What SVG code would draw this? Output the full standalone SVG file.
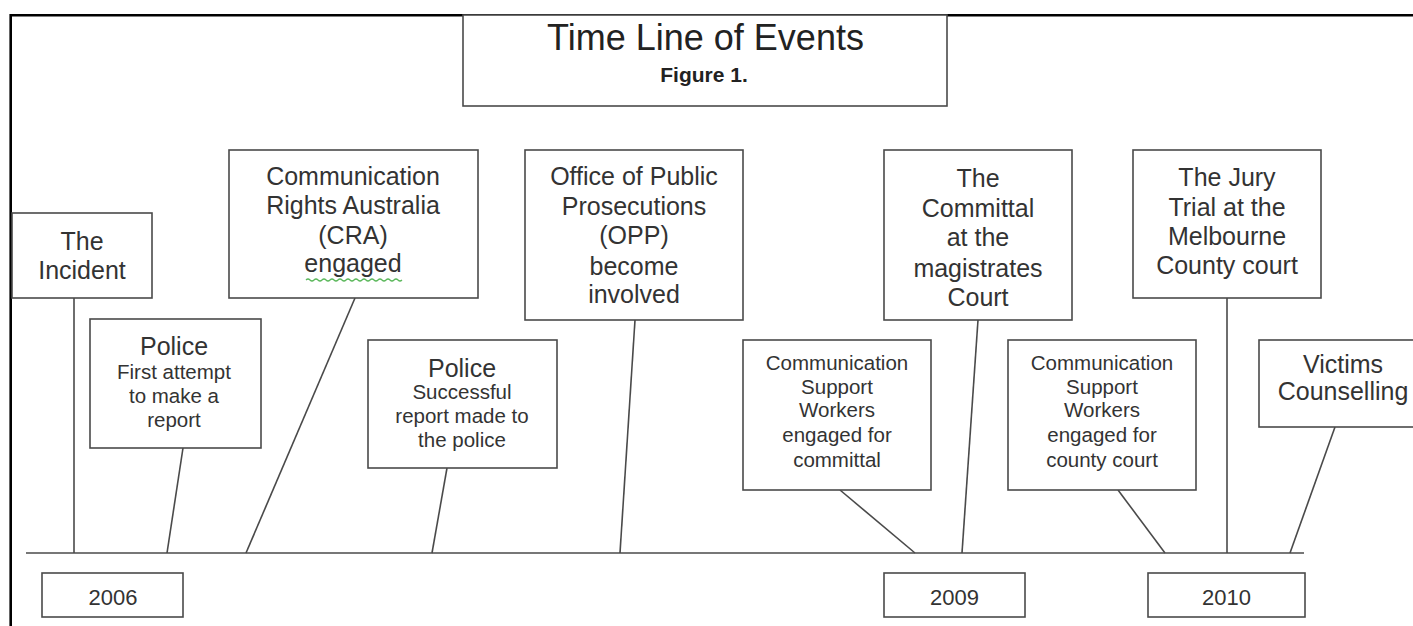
<svg xmlns="http://www.w3.org/2000/svg" width="1413" height="626" viewBox="0 0 1413 626">
<style>
.bg{fill:#fff}
.frame{stroke:#000;stroke-width:2.6;fill:none}
.box{fill:#fff;stroke:#4a4a4a;stroke-width:1.6}
.ln{stroke:#4a4a4a;stroke-width:1.6;fill:none}
text{font-family:"Liberation Sans",Arial,Helvetica,sans-serif;fill:#333;text-anchor:middle}
.big{font-size:25px}
.sm{font-size:20.5px}
.yr{font-size:22px}
.title{font-size:36px;fill:#222}
.fig{font-size:21px;font-weight:bold;fill:#222}
.spell{stroke:#5cb85c;stroke-width:1.2;fill:none}
</style>
<rect class="bg" x="0" y="0" width="1413" height="626"/>
<g id="frame">
<line class="frame" x1="10" y1="15.3" x2="1413" y2="15.3"/>
<line class="frame" x1="10.7" y1="14" x2="10.7" y2="626"/>
</g>
<g id="title">
<rect class="box" x="463" y="15" width="484" height="91"/>
<text class="title" x="705.5" y="50">Time Line of Events</text>
<text class="fig" x="704" y="82">Figure 1.</text>
</g>
<g id="connectors">
<line class="ln" x1="26" y1="553" x2="1304" y2="553"/>
<line class="ln" x1="74" y1="298" x2="74" y2="553"/>
<line class="ln" x1="183" y1="448" x2="167" y2="553"/>
<line class="ln" x1="355" y1="298" x2="246" y2="553"/>
<line class="ln" x1="447" y1="468" x2="432" y2="553"/>
<line class="ln" x1="635" y1="320" x2="620" y2="553"/>
<line class="ln" x1="840" y1="490" x2="915" y2="553"/>
<line class="ln" x1="978" y1="320" x2="962" y2="553"/>
<line class="ln" x1="1118" y1="490" x2="1165" y2="553"/>
<line class="ln" x1="1227" y1="298" x2="1227" y2="553"/>
<line class="ln" x1="1335" y1="427" x2="1290" y2="553"/>
</g>
<g id="incident">
<rect class="box" x="12" y="213" width="140" height="85"/>
<text class="big" x="82" y="250">The</text>
<text class="big" x="82" y="279">Incident</text>
</g>
<g id="police-first">
<rect class="box" x="90" y="319" width="171" height="129"/>
<text class="big" x="174" y="355">Police</text>
<text class="sm" x="174" y="379">First attempt</text>
<text class="sm" x="174" y="403">to make a</text>
<text class="sm" x="174" y="427">report</text>
</g>
<g id="cra">
<rect class="box" x="229" y="150" width="249" height="148"/>
<text class="big" x="353" y="185">Communication</text>
<text class="big" x="353" y="214">Rights Australia</text>
<text class="big" x="353" y="244">(CRA)</text>
<text class="big" x="353" y="272">engaged</text>
<path class="spell" d="M306 280 q2 -2 4 0 t4 0 t4 0 t4 0 t4 0 t4 0 t4 0 t4 0 t4 0 t4 0 t4 0 t4 0 t4 0 t4 0 t4 0 t4 0 t4 0 t4 0 t4 0 t4 0 t4 0 t4 0 t4 0 t4 0"/>
</g>
<g id="police-success">
<rect class="box" x="368" y="340" width="189" height="128"/>
<text class="big" x="462" y="377">Police</text>
<text class="sm" x="462" y="399">Successful</text>
<text class="sm" x="462" y="423">report made to</text>
<text class="sm" x="462" y="447">the police</text>
</g>
<g id="opp">
<rect class="box" x="525" y="150" width="218" height="170"/>
<text class="big" x="634" y="185">Office of Public</text>
<text class="big" x="634" y="215">Prosecutions</text>
<text class="big" x="634" y="244">(OPP)</text>
<text class="big" x="634" y="275">become</text>
<text class="big" x="634" y="303">involved</text>
</g>
<g id="csw-committal">
<rect class="box" x="743" y="340" width="188" height="150"/>
<text class="sm" x="837" y="370">Communication</text>
<text class="sm" x="837" y="394">Support</text>
<text class="sm" x="837" y="417">Workers</text>
<text class="sm" x="837" y="442">engaged for</text>
<text class="sm" x="837" y="467">committal</text>
</g>
<g id="committal">
<rect class="box" x="884" y="150" width="188" height="170"/>
<text class="big" x="978" y="187">The</text>
<text class="big" x="978" y="217">Committal</text>
<text class="big" x="978" y="246">at the</text>
<text class="big" x="978" y="277">magistrates</text>
<text class="big" x="978" y="306">Court</text>
</g>
<g id="csw-county">
<rect class="box" x="1008" y="340" width="188" height="150"/>
<text class="sm" x="1102" y="370">Communication</text>
<text class="sm" x="1102" y="394">Support</text>
<text class="sm" x="1102" y="417">Workers</text>
<text class="sm" x="1102" y="442">engaged for</text>
<text class="sm" x="1102" y="467">county court</text>
</g>
<g id="jury">
<rect class="box" x="1133" y="150" width="188" height="148"/>
<text class="big" x="1227" y="186">The Jury</text>
<text class="big" x="1227" y="216">Trial at the</text>
<text class="big" x="1227" y="245">Melbourne</text>
<text class="big" x="1227" y="274">County court</text>
</g>
<g id="victims">
<rect class="box" x="1259" y="340" width="170" height="87"/>
<text class="big" x="1343" y="373">Victims</text>
<text class="big" x="1343" y="400">Counselling</text>
</g>
<g id="y2006">
<rect class="box" x="42" y="573" width="141" height="44"/>
<text class="yr" x="113" y="605">2006</text>
</g>
<g id="y2009">
<rect class="box" x="884" y="573" width="141" height="44"/>
<text class="yr" x="954.5" y="605">2009</text>
</g>
<g id="y2010">
<rect class="box" x="1148" y="573" width="157" height="44"/>
<text class="yr" x="1226.5" y="605">2010</text>
</g>
</svg>
